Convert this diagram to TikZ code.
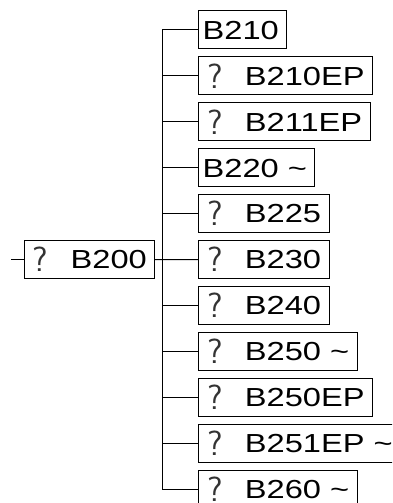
\documentclass[tikz,border=0pt]{standalone}
\usepackage{fontspec}
\setmainfont[FakeStretch=1.25]{Liberation Sans}
\usetikzlibrary{positioning}
% 疑問符
\newcommand{\qm}{\makebox[42.3pt][l]{\hspace{4.5pt}\raisebox{-3pt}{\color{black!80}\sffamily\fontsize{35pt}{35pt}\selectfont ?}}}

\begin{document}
\begin{tikzpicture}
  [
  % 線と文字の間の間隔を設定
  every node/.style={outer sep=0, inner sep=0},
  % ボックス
  box/.style={rectangle, draw, line width=1pt, minimum height=38pt,
  text height=18.7pt, text depth=0pt, inner xsep=0,
  font=\fontsize{26.1pt}{30pt}\selectfont,
  execute at begin node=\hspace{4.3pt}, execute at end node=\hspace{8pt}},
  % 接続線
  line/.style={line width=1pt}
  ]
  \path[use as bounding box, clip] (0,0) rectangle (392pt,-503pt);
  \node [box, anchor=west] (b200) at (24pt,-259.5pt) {\qm B200};
  \coordinate (in) at (11pt,-259.5pt);
  \node [box, anchor=west] (b210) at (198.3pt,-30pt) {B210};
  \node [box, below=7.9pt of b210.south west, anchor=north west] (b210ep) {\qm B210EP};
  \node [box, below=7.9pt of b210ep.south west, anchor=north west] (b211ep) {\qm B211EP};
  \node [box, below=7.9pt of b211ep.south west, anchor=north west] (b220) {B220 \char`~};
  \node [box, below=7.9pt of b220.south west, anchor=north west] (b225) {\qm B225};
  \node [box, below=7.9pt of b225.south west, anchor=north west] (b230) {\qm B230};
  \node [box, below=7.9pt of b230.south west, anchor=north west] (b240) {\qm B240};
  \node [box, below=7.9pt of b240.south west, anchor=north west] (b250) {\qm B250 \char`~};
  \node [box, below=7.9pt of b250.south west, anchor=north west] (b250ep) {\qm B250EP};
  \node [box, below=7.9pt of b250ep.south west, anchor=north west] (b251ep) {\qm B251EP \char`~};
  \node [box, below=7.9pt of b251ep.south west, anchor=north west] (b260) {\qm B260 \char`~};
  \coordinate (trunk) at (162.3pt,0);
  \draw [line] (in) -- (b200);
  \draw [line] (b200) -- (b230);
  \draw [line] (b210.west -| trunk) -- (b260.west -| trunk);
  \foreach \n in {b210,b210ep,b211ep,b220,b225,b240,b250,b250ep,b251ep,b260}
    \draw [line] (\n.west -| trunk) -- (\n.west);
\end{tikzpicture}
\end{document}
